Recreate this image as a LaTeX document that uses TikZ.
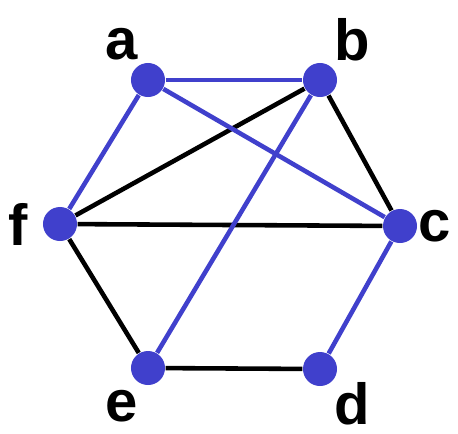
\documentclass[tikz,border=0pt]{standalone}
\usepackage{fontspec}
\setmainfont{Liberation Sans}
\usepackage{xcolor}
\usepackage{tikz}
\usetikzlibrary{positioning}
\definecolor{vertexblue}{HTML}{4040CC}

\begin{document}
\begin{tikzpicture}[
  x=0.01cm, y=-0.01cm,
  vertex/.style={circle, fill=vertexblue, inner sep=0pt, minimum size=0.34cm},
  vlabel/.style={font=\fontsize{16.5}{16.5}\selectfont\bfseries, inner sep=0pt},
  blueedge/.style={draw=vertexblue, line width=1.3pt},
  blackedge/.style={draw=black, line width=1.3pt}
]
\useasboundingbox (0,0) rectangle (458,433);

% Vertices
\node[vertex] (a) at (148,80) {};
\node[vertex] (b) at (320,80) {};
\node[vertex] (c) at (400,226) {};
\node[vertex] (d) at (320,369) {};
\node[vertex] (e) at (148,368) {};
\node[vertex] (f) at (60,224) {};

% Labels
\node[vlabel] (la) at (122,44) {a};
\node[vlabel] (lb) at (352,40) {b};
\node[vlabel] (lc) at (435,226) {c};
\node[vlabel] (ld) at (352,404) {d};
\node[vlabel] (le) at (122,406) {e};
\node[vlabel] (lf) at (18,224) {f};

% Black edges
\draw[blackedge] (b) -- (c);
\draw[blackedge] (b) -- (f);
\draw[blackedge] (f) -- (c);
\draw[blackedge] (f) -- (e);
\draw[blackedge] (e) -- (d);

% Blue edges
\draw[blueedge] (a) -- (b);
\draw[blueedge] (a) -- (c);
\draw[blueedge] (a) -- (f);
\draw[blueedge] (b) -- (e);
\draw[blueedge] (c) -- (d);

\end{tikzpicture}
\end{document}
